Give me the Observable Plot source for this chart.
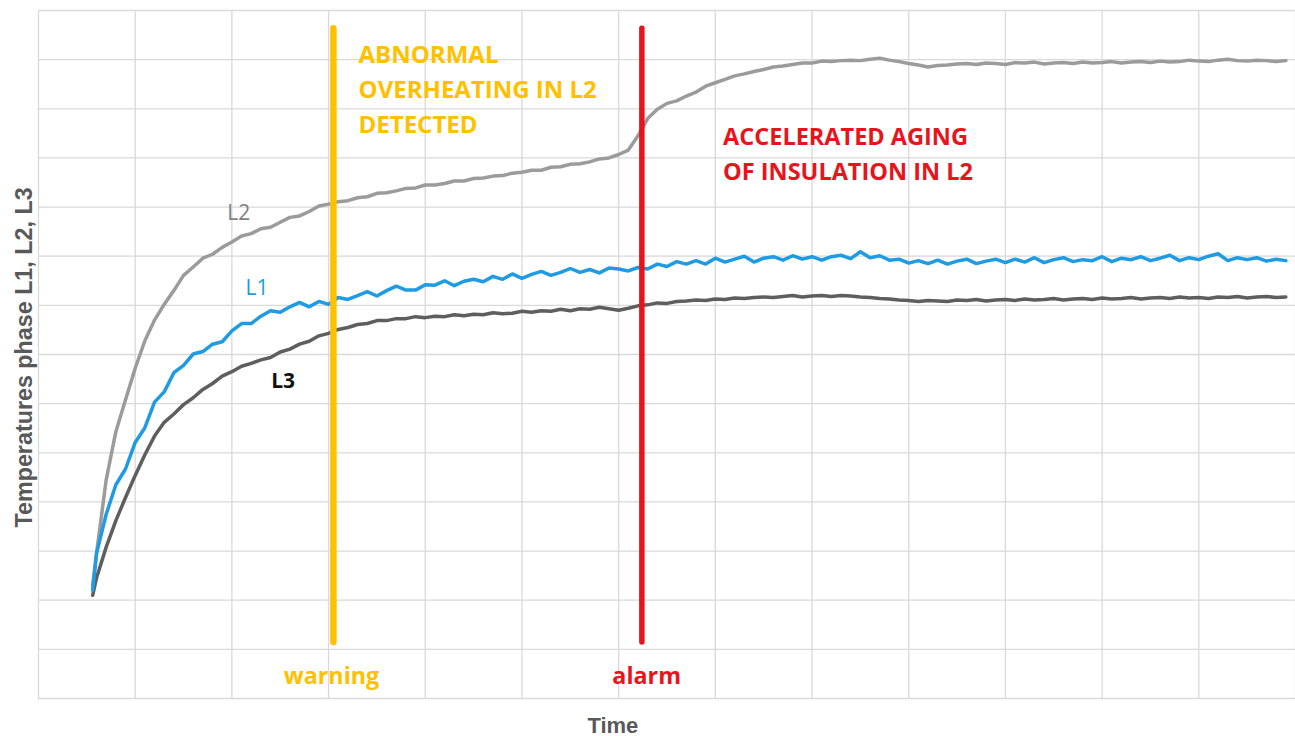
<!DOCTYPE html>
<html>
<head>
<meta charset="utf-8">
<script src="https://cdn.jsdelivr.net/npm/d3@7"></script>
<script src="https://cdn.jsdelivr.net/npm/@observablehq/plot@0.6"></script>
<style>
  html, body { margin: 0; padding: 0; background: #ffffff; }
  #chart svg { display: block; }
</style>
</head>
<body>
<div id="chart"></div>
<script>
// Sample times (arbitrary units, one grid column = 10)
const time = [5.6,
  6,7,8,9,10,11,12,13,14,15,
  16,17,18,19,20,21,22,23,24,25,
  26,27,28,29,30,31,32,33,34,35,
  36,37,38,39,40,41,42,43,44,45,
  46,47,48,49,50,51,52,53,54,55,
  56,57,58,59,60,61,62,63,64,65,
  66,67,68,69,70,71,72,73,74,75,
  76,77,78,79,80,81,82,83,84,85,
  86,87,88,89,90,91,92,93,94,95,
  96,97,98,99,100,101,102,103,104,105,
  106,107,108,109,110,111,112,113,114,115,
  116,117,118,119,120,121,122,123,124,125,
  126,127,128,129];

// Temperatures (arbitrary units, one grid row = 10)
const L2 = [23,
  29.5,44.5,54.3,60.8,67.2,72.8,77.0,80.2,83.0,86.1,
  87.8,89.6,90.4,91.8,92.9,94.1,94.6,95.6,95.9,96.9,
  97.9,98.2,99.1,100.2,100.6,101.1,101.3,101.9,102.1,102.8,
  102.9,103.3,103.8,103.9,104.5,104.5,104.8,105.3,105.3,105.8,
  105.9,106.3,106.4,106.9,107.1,107.5,107.5,108.1,108.2,108.7,
  108.8,109.2,109.8,110.0,110.7,111.6,114.5,118.0,119.9,121.1,
  121.6,122.6,123.4,124.6,125.3,126.0,126.7,127.1,127.6,128.0,
  128.5,128.7,129.0,129.3,129.3,129.7,129.6,129.8,129.9,129.8,
  130.1,130.3,129.9,129.6,129.2,128.9,128.5,128.8,128.9,129.1,
  129.2,129.0,129.3,129.2,129.0,129.4,129.3,129.5,129.1,129.3,
  129.4,129.2,129.5,129.3,129.4,129.6,129.3,129.5,129.6,129.4,
  129.7,129.5,129.6,129.9,129.7,129.6,129.9,130.1,129.8,129.7,
  129.9,129.8,129.6,129.8];

const L1 = [22,
  29.5,37.5,43.5,46.7,52.1,55.1,60.3,62.4,66.3,67.8,
  70.1,70.6,72.1,72.6,74.8,76.3,76.3,77.8,78.9,78.6,
  79.7,80.6,79.7,80.8,80.2,81.6,81.2,82.0,82.8,81.9,
  83.0,83.9,83.1,83.1,84.2,84.1,85.0,84.0,84.9,85.3,
  84.8,85.9,85.3,86.4,85.5,86.3,86.9,86.1,86.7,87.5,
  86.7,87.3,86.6,87.6,87.4,87.0,87.7,87.4,88.4,87.9,
  88.9,88.4,89.1,88.4,89.6,88.8,89.4,90.0,88.8,89.6,
  89.9,89.2,90.1,89.4,89.9,89.2,89.9,90.2,89.5,90.9,
  89.7,90.1,89.2,89.4,88.6,89.1,88.5,89.2,88.4,89.0,
  89.4,88.5,89.0,89.4,88.7,89.4,88.8,89.7,88.7,89.3,
  89.7,88.9,89.3,89.1,89.9,88.9,89.6,89.3,89.9,89.1,
  89.6,90.2,89.1,89.7,89.3,90.0,90.5,89.1,89.7,89.3,
  89.7,89.0,89.4,89.1];

const L3 = [21,
  24.5,30.8,36.2,40.9,45.4,49.6,53.4,56.2,57.9,59.8,
  61.2,62.9,64.1,65.6,66.5,67.6,68.2,68.9,69.4,70.5,
  71.1,72.1,72.7,73.8,74.3,75.1,75.5,76.1,76.3,76.9,
  76.9,77.3,77.3,77.7,77.5,77.8,77.7,78.1,77.9,78.2,
  78.1,78.5,78.3,78.4,78.8,78.6,78.9,78.8,79.2,78.9,
  79.3,79.2,79.6,79.3,79.0,79.4,79.9,80.1,80.5,80.4,
  80.8,80.9,81.1,81.0,81.3,81.2,81.5,81.4,81.6,81.7,
  81.6,81.8,82.0,81.7,81.9,82.0,81.8,82.0,81.9,81.7,
  81.6,81.4,81.3,81.1,81.0,80.8,81.0,80.9,80.8,81.1,
  81.0,81.2,80.9,81.1,81.2,81.0,81.3,81.1,81.2,81.4,
  81.1,81.3,81.4,81.2,81.5,81.3,81.4,81.6,81.3,81.5,
  81.6,81.4,81.7,81.5,81.6,81.4,81.7,81.6,81.8,81.5,
  81.7,81.8,81.6,81.7];

const gridTimes = [0,10,20,30,40,50,60,70,80,90,100,110,120,130];
const gridTemps = [0,10,20,30,40,50,60,70,80,90,100,110,120,130,140];

const events = [
  {time: 30.5, label: "warning", color: "#FFC000", width: 6.5},
  {time: 62.4, label: "alarm", color: "#E8141C", width: 5.5}
];
const ruleSpan = [11.4, 136.3];

const seriesNames = ["L2", "L3", "L1"];
const seriesColors = {L1: "#1E9BE2", L2: "#9B9B9B", L3: "#5E5E5E"};
const seriesValues = {L1, L2, L3};

const rows = [];
for (const name of seriesNames) {
  seriesValues[name].forEach((v, i) => rows.push({series: name, time: time[i], temp: v}));
}

const seriesLabels = [
  {text: "L2", time: 20.7, temp: 97.3, color: "#7F7F7F"},
  {text: "L1", time: 22.6, temp: 82.2, color: "#1E9BE2"}
];
const seriesLabelsBold = [
  {text: "L3", time: 25.3, temp: 63.1, color: "#111111"}
];

const notes = [
  {text: "ABNORMAL\nOVERHEATING IN L2\nDETECTED", time: 33.1, temp: 134.3, color: "#FFC000", size: 24},
  {text: "ACCELERATED AGING\nOF INSULATION IN L2", time: 70.8, temp: 117.6, color: "#E8141C", size: 23.5}
];

const eventLabels = [
  {text: "warning", time: 30.3, temp: 3.05, color: "#FFC000"},
  {text: "alarm", time: 62.9, temp: 3.05, color: "#E8141C"}
];

const axisTitleX = [{text: "Time", time: 59.4, temp: -7.12}];
const axisTitleY = [{text: "Temperatures phase L1, L2, L3", time: -0.72, temp: 69.4}];

const chart = Plot.plot({
  width: 1295,
  height: 736,
  marginLeft: 38,
  marginTop: 10,
  marginBottom: 38,
  marginRight: 0,
  x: {domain: [0, 130], axis: null},
  y: {domain: [0, 140], axis: null},
  style: {background: "#ffffff", overflow: "visible"},
  marks: [
    Plot.ruleX(gridTimes, {stroke: "#D9D9D9", strokeWidth: 1.3}),
    Plot.ruleY(gridTemps, {stroke: "#D9D9D9", strokeWidth: 1.3}),
    Plot.line(rows, {
      x: "time", y: "temp", z: "series",
      stroke: d => seriesColors[d.series],
      strokeWidth: 3.5, strokeLinejoin: "round", strokeLinecap: "round"
    }),
    Plot.ruleX(events, {
      x: "time", y1: () => ruleSpan[0], y2: () => ruleSpan[1],
      stroke: "color", strokeWidth: d => d.width, strokeLinecap: "round"
    }),
    Plot.text(seriesLabels, {
      x: "time", y: "temp", text: "text", fill: "color",
      fontFamily: "Open Sans", fontSize: 21, fontWeight: "normal",
      textAnchor: "middle", lineAnchor: "bottom"
    }),
    Plot.text(seriesLabelsBold, {
      x: "time", y: "temp", text: "text", fill: "color",
      fontFamily: "Open Sans", fontSize: 21, fontWeight: "bold",
      textAnchor: "middle", lineAnchor: "bottom"
    }),
    ...notes.map(n => Plot.text([n], {
      x: "time", y: "temp", text: "text", fill: "color",
      fontFamily: "Open Sans", fontSize: n.size, fontWeight: "bold",
      textAnchor: "start", lineAnchor: "top", lineHeight: 35 / n.size
    })),
    Plot.text(eventLabels, {
      x: "time", y: "temp", text: "text", fill: "color",
      fontFamily: "Open Sans", fontSize: 23.3, fontWeight: "bold",
      textAnchor: "middle", lineAnchor: "bottom"
    }),
    Plot.text(axisTitleX, {
      x: "time", y: "temp", text: "text",
      fill: "#595959",
      fontFamily: "Liberation Sans", fontSize: 22, fontWeight: "bold",
      textAnchor: "middle", lineAnchor: "bottom"
    }),
    Plot.text(axisTitleY, {
      x: "time", y: "temp", text: "text", rotate: -90,
      fill: "#595959",
      fontFamily: "Liberation Sans", fontSize: 23.3, fontWeight: "bold",
      textAnchor: "middle", lineAnchor: "bottom"
    })
  ]
});

document.getElementById("chart").appendChild(chart);
</script>
</body>
</html>
